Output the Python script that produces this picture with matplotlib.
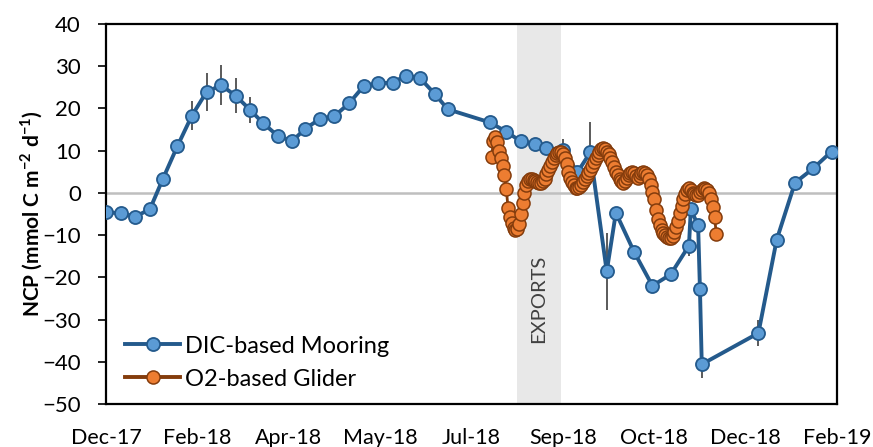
import matplotlib
matplotlib.use("Agg")
import matplotlib.pyplot as plt
from matplotlib.lines import Line2D
import pandas as pd

plt.rcParams['font.family'] = ['Lato', 'DejaVu Sans']
plt.rcParams['mathtext.fontset'] = 'custom'
plt.rcParams['mathtext.rm'] = 'Lato'
plt.rcParams['mathtext.bf'] = 'Lato:bold'

# ---------------- data ----------------
start_date = "2017-12-29"          # left end of the date axis
axis_days = 400
tick_step_days = 50
tick_labels = ["Dec-17", "Feb-18", "Apr-18", "May-18", "Jul-18",
               "Sep-18", "Oct-18", "Dec-18", "Feb-19"]

# DIC-based mooring NCP (day offset from start_date, value, error)
dic_day = [0, 8, 16, 24, 31, 39, 47, 55, 63, 71, 79, 86, 94, 102, 109, 117,
           125, 133, 141, 149, 157, 164, 172, 180, 187, 210, 219, 227, 235,
           241, 250, 258, 265, 274, 279, 289, 299, 309, 319, 320, 324, 325,
           326, 357, 367, 377, 387, 397]
dic_ncp = [-4.6, -4.8, -5.6, -3.9, 3.2, 11.0, 18.3, 23.9, 25.5, 23.0, 19.6,
           16.5, 13.5, 12.3, 15.2, 17.5, 18.2, 21.2, 25.3, 26.0, 26.1, 27.8,
           27.1, 23.4, 19.8, 16.7, 14.5, 12.2, 11.6, 10.6, 10.2, 4.9, 9.6,
           -18.6, -4.7, -14.0, -22.0, -19.3, -12.5, -3.9, -7.7, -22.7, -40.6,
           -33.2, -11.1, 2.4, 5.8, 9.8]
dic_err = [0.5, 0.5, 0.5, 0.5, 0.8, 1.0, 3.5, 4.4, 4.8, 4.1, 3.0, 1.0, 0.8,
           0.8, 0.8, 0.8, 0.8, 0.8, 0.8, 0.8, 0.8, 0.8, 0.8, 0.8, 0.8, 0.8,
           0.8, 0.8, 0.8, 0.8, 2.6, 1.0, 7.2, 9.2, 1.0, 1.0, 1.0, 1.0, 2.4,
           1.0, 1.0, 1.0, 3.3, 3.0, 1.0, 1.0, 1.0, 1.0]

# O2-based glider NCP (daily, day offset from start_date)
glider_first_day = 211
glider_ncp = [8.6, 12.2, 13.2, 12.0, 10.0, 8.3, 6.4, 4.3, 1.0, -3.5,
              -5.8, -7.2, -8.2, -8.7, -8.6, -7.3, -5.0, -2.5, 0.0, 1.8,
              2.7, 3.3, 3.4, 3.1, 2.8, 2.6, 2.4, 2.3, 2.7, 3.4,
              4.4, 5.5, 6.4, 7.4, 8.3, 9.0, 9.5, 9.8, 9.7, 9.2,
              8.3, 6.8, 5.0, 3.6, 2.5, 1.8, 1.2, 1.1, 1.4, 1.9,
              2.5, 3.2, 3.9, 4.7, 5.5, 6.4, 7.3, 8.2, 9.0, 9.7,
              10.3, 10.6, 10.4, 9.8, 9.2, 8.2, 7.2, 6.1, 5.0, 4.2,
              3.4, 2.8, 2.4, 2.8, 3.6, 4.3, 4.8, 5.0, 4.6, 3.9,
              3.5, 3.9, 4.6, 5.0, 4.8, 4.2, 3.2, 1.8, 0.3, -1.5,
              -4.0, -6.3, -7.6, -8.7, -9.4, -10.0, -10.5, -10.7, -10.6, -10.1,
              -9.3, -8.0, -6.6, -4.8, -3.1, -1.5, -0.2, 0.8, 1.1, 0.6,
              0.0, -0.3, -0.5, -0.4, 0.2, 0.8, 1.1, 1.0, 0.6, 0.0,
              -1.4, -3.4, -5.8, -9.8]

exports_days = [225, 249]
series_labels = ["DIC-based Mooring", "O2-based Glider"]

# ---------------- styling ----------------
blue_fill = "#5B9BD5"
blue_line = "#245A8C"
orange_fill = "#ED7D31"
orange_edge = "#843C0C"
err_col = "#5A5A5A"

t0 = pd.Timestamp(start_date)
to_dt = lambda d: t0 + pd.to_timedelta(d, unit="D")

dic_x = [to_dt(d) for d in dic_day]
glider_x = [to_dt(glider_first_day + i) for i in range(len(glider_ncp))]

fig = plt.figure(figsize=(8.73, 4.47), dpi=100)
ax = fig.add_axes([106/873, 1-404/447, 731/873, 380/447])

ax.axvspan(to_dt(exports_days[0]), to_dt(exports_days[1]), color="#E8E8E8",
           zorder=0, lw=0)
ax.axhline(0, color="#BFBFBF", lw=1.8, zorder=1)

ax.errorbar(dic_x, dic_ncp, yerr=dic_err, fmt="none", ecolor=err_col,
            elinewidth=1.4, capsize=0, zorder=2)
ax.plot(dic_x, dic_ncp, color=blue_line, lw=2.8, marker="o", ms=9.4,
        mfc=blue_fill, mec=blue_line, mew=1.3, zorder=3)
ax.plot(glider_x, glider_ncp, color=orange_edge, lw=2.0, marker="o", ms=9.4,
        mfc=orange_fill, mec=orange_edge, mew=1.1, zorder=4)

ax.text(to_dt(sum(exports_days)/2), -25, "EXPORTS", rotation=90,
        ha="center", va="center", fontsize=14.5, color="#404040", zorder=5)

ax.set_xlim(to_dt(0), to_dt(axis_days))
ax.set_ylim(-50, 40)
ax.set_yticks(range(-50, 41, 10))
ax.set_xticks([to_dt(i * tick_step_days) for i in range(len(tick_labels))])
ax.set_xticklabels(tick_labels)
ax.tick_params(axis="x", length=0, pad=17, labelsize=15.5)
ax.tick_params(axis="y", length=6, width=1.2, direction="out", pad=12,
               labelsize=16)
for s in ax.spines.values():
    s.set_linewidth(1.6)
    s.set_color("black")

ax.set_ylabel(r"NCP (mmol C m$^{\mathbf{-2}}$ d$^{\mathbf{-1}}$)",
              fontsize=15, fontweight="bold")
ax.yaxis.set_label_coords(-0.084, 0.5)

handles = [
    Line2D([], [], color=blue_line, lw=2.8, marker="o", ms=9.4,
           mfc=blue_fill, mec=blue_line, mew=1.3),
    Line2D([], [], color=orange_edge, lw=2.8, marker="o", ms=9.4,
           mfc=orange_fill, mec=orange_edge, mew=1.1),
]
ax.legend(handles, series_labels, loc="lower left",
          bbox_to_anchor=(0.026, 0.038), frameon=False, fontsize=17,
          handlelength=2.35, handletextpad=0.2, labelspacing=0.5,
          borderaxespad=0, borderpad=0)

fig.savefig("out.png", dpi=100)
